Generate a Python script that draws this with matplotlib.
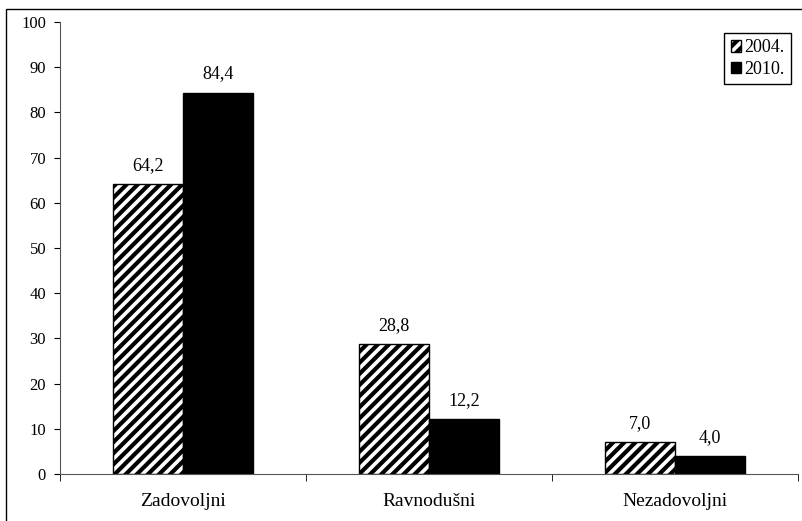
import numpy as np
import matplotlib.pyplot as plt
from matplotlib.patches import Rectangle

plt.rcParams['font.family'] = ['Liberation Serif', 'DejaVu Serif']
plt.rcParams['hatch.linewidth'] = 3.0

# Data
categories = ['Zadovoljni', 'Ravnodušni', 'Nezadovoljni']
years = ['2004.', '2010.']
values_2004 = [64.2, 28.8, 7.0]
values_2010 = [84.4, 12.2, 4.0]
y_ticks = [0, 10, 20, 30, 40, 50, 60, 70, 80, 90, 100]

fig = plt.figure(figsize=(8.02, 5.21), dpi=100)
# outer frame (only top and left edges fall inside the picture)
fig.patches.append(Rectangle((6 / 802, -0.2), 1.2, 0.2 + (521 - 9) / 521, transform=fig.transFigure,
                             fill=False, edgecolor='black', linewidth=1.0))

ax = fig.add_axes([60 / 802, (521 - 474) / 521, 738 / 802, (474 - 22) / 521])

x = np.arange(len(categories))
w = 0.286
b1 = ax.bar(x - w / 2, values_2004, w, color='white', edgecolor='black',
            hatch='///', linewidth=1.0, label=years[0])
b2 = ax.bar(x + w / 2, values_2010, w, color='black', edgecolor='black',
            linewidth=1.0, label=years[1])

for bars in (b1, b2):
    for r in bars:
        v = r.get_height()
        ax.text(r.get_x() + r.get_width() / 2, v + 2.2, f'{v:.1f}'.replace('.', ','),
                ha='center', va='bottom', fontsize=13)

ax.set_xlim(-0.5, len(categories) - 0.5)
ax.set_ylim(0, 100)
ax.set_yticks(y_ticks)
ax.tick_params(axis='y', direction='out', length=4, labelsize=12, pad=6)
ax.set_xticks(x)
ax.set_xticklabels(categories, fontsize=14)
ax.tick_params(axis='x', length=0, pad=14)
ax.set_xticks(np.arange(len(categories) + 1) - 0.5, minor=True)
ax.tick_params(axis='x', which='minor', direction='out', length=5)

for s in ('top', 'right'):
    ax.spines[s].set_visible(False)
ax.spines['left'].set_color('#555555')
ax.spines['bottom'].set_color('#555555')

leg = ax.legend(loc='upper right', bbox_to_anchor=(0.99, 0.976), fontsize=13,
                frameon=True, fancybox=False, edgecolor='black', framealpha=1,
                handlelength=0.6, handleheight=0.6, handletextpad=0.15,
                borderpad=0.35, labelspacing=0.25, borderaxespad=0)
leg.get_frame().set_linewidth(1.0)

fig.savefig('out.png', dpi=100)
